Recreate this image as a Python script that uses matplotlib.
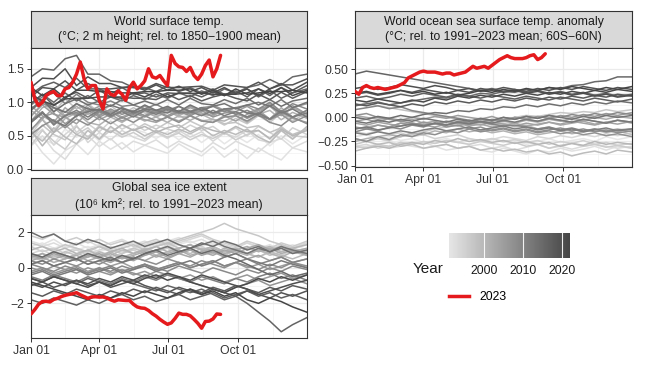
import matplotlib

matplotlib.use("Agg")
import matplotlib.pyplot as plt
import numpy as np
from matplotlib.colors import LinearSegmentedColormap, Normalize
from matplotlib.cm import ScalarMappable
from matplotlib.lines import Line2D

plt.rcParams.update({
    "font.family": ["Liberation Sans", "DejaVu Sans"],
    "font.size": 8.8,
    "axes.unicode_minus": True,
})

# ---------------------------------------------------------------- data
years = list(range(1991, 2023))
# day of year for the grey (past years) series, ~half-monthly
gray_days = [0, 15, 30, 45, 60, 75, 90, 105, 120, 135, 150, 165, 180,
             195, 210, 225, 240, 255, 270, 285, 300, 315, 330, 345, 364]
# day of year for 2023 (5-day steps up to early September)
red_days = list(range(0, 251, 5))

tick_days = [0, 90, 181, 273]
tick_labels = ["Jan 01", "Apr 01", "Jul 01", "Oct 01"]

# World surface temp. (degC x100), one row per year 1991..2022
sfc_gray = [
    [62, 45, 38, 60, 48, 58, 42, 62, 50, 60, 55, 46, 56, 44, 54, 40, 52, 38, 50, 40, 52, 35, 50, 38, 52],
    [48, 25, 8, 28, 38, 22, 42, 30, 40, 26, 36, 30, 24, 38, 28, 20, 34, 18, 30, 16, 32, 22, 14, 32, 26],
    [35, 50, 28, 15, 38, 50, 34, 46, 30, 42, 36, 44, 32, 42, 34, 26, 40, 30, 42, 34, 26, 40, 46, 32, 42],
    [45, 60, 36, 52, 66, 40, 55, 44, 58, 48, 42, 55, 46, 58, 48, 56, 42, 54, 48, 58, 44, 40, 58, 46, 62],
    [52, 75, 58, 80, 55, 68, 56, 72, 60, 68, 58, 66, 60, 55, 66, 58, 64, 52, 62, 50, 64, 55, 45, 62, 52],
    [36, 58, 42, 30, 52, 62, 45, 58, 48, 55, 45, 56, 48, 54, 44, 52, 46, 55, 44, 52, 58, 45, 64, 50, 48],
    [46, 66, 52, 44, 64, 48, 65, 55, 66, 58, 68, 60, 70, 62, 72, 64, 75, 66, 76, 68, 80, 70, 84, 72, 85],
    [78, 100, 85, 105, 90, 98, 85, 95, 82, 92, 84, 80, 88, 78, 80, 72, 75, 68, 70, 62, 65, 55, 62, 52, 60],
    [55, 42, 62, 48, 38, 58, 45, 64, 52, 60, 50, 58, 52, 60, 53, 62, 50, 58, 52, 60, 48, 40, 58, 45, 64],
    [58, 35, 55, 66, 52, 45, 63, 55, 67, 58, 64, 55, 62, 66, 56, 64, 58, 54, 64, 56, 58, 46, 60, 50, 58],
    [60, 74, 55, 76, 84, 70, 66, 78, 70, 80, 72, 78, 70, 80, 73, 82, 74, 72, 80, 70, 82, 88, 74, 85, 76],
    [72, 92, 98, 80, 94, 82, 90, 78, 88, 80, 87, 78, 86, 80, 88, 82, 80, 90, 82, 78, 88, 75, 92, 78, 88],
    [95, 80, 70, 92, 78, 96, 82, 88, 78, 86, 80, 88, 90, 82, 92, 84, 80, 90, 83, 78, 88, 94, 80, 92, 82],
    [88, 75, 92, 78, 68, 85, 74, 82, 72, 80, 74, 70, 78, 72, 80, 73, 70, 80, 72, 82, 88, 74, 85, 76, 70],
    [80, 96, 82, 78, 98, 86, 94, 84, 92, 86, 94, 86, 92, 84, 94, 86, 96, 88, 86, 94, 84, 98, 86, 95, 82],
    [58, 78, 84, 68, 80, 88, 78, 86, 76, 84, 78, 86, 80, 88, 82, 90, 82, 88, 92, 84, 90, 95, 82, 92, 98],
    [115, 98, 92, 86, 82, 92, 80, 90, 82, 88, 80, 86, 78, 86, 80, 88, 78, 84, 86, 76, 84, 74, 82, 70, 80],
    [52, 65, 74, 62, 75, 66, 78, 68, 78, 70, 80, 72, 78, 70, 80, 72, 70, 78, 80, 72, 82, 70, 65, 78, 68],
    [70, 84, 68, 80, 85, 74, 86, 78, 88, 82, 90, 84, 92, 86, 84, 92, 94, 86, 92, 96, 90, 100, 86, 98, 90],
    [96, 108, 114, 98, 112, 100, 96, 102, 94, 96, 90, 97, 88, 94, 86, 92, 84, 90, 82, 88, 80, 75, 88, 78, 88],
    [72, 86, 66, 80, 88, 78, 88, 80, 86, 78, 88, 82, 90, 84, 86, 80, 88, 80, 86, 78, 84, 75, 86, 78, 84],
    [70, 84, 72, 65, 80, 86, 90, 82, 92, 84, 90, 88, 84, 94, 86, 92, 84, 90, 92, 84, 82, 95, 84, 90, 78],
    [88, 102, 92, 85, 98, 90, 88, 96, 90, 86, 96, 88, 94, 86, 96, 88, 94, 98, 90, 96, 100, 94, 104, 92, 100],
    [90, 104, 86, 98, 105, 96, 102, 94, 104, 96, 102, 96, 104, 96, 106, 98, 96, 104, 98, 106, 96, 104, 94, 102, 106],
    [98, 112, 100, 114, 102, 110, 100, 108, 102, 110, 104, 112, 106, 114, 108, 117, 110, 120, 114, 122, 126, 134, 126, 138, 142],
    [138, 150, 148, 165, 170, 142, 142, 132, 130, 122, 122, 116, 124, 116, 122, 114, 120, 112, 114, 120, 108, 118, 106, 114, 120],
    [112, 124, 130, 122, 136, 120, 120, 112, 122, 112, 114, 108, 114, 113, 114, 108, 116, 110, 117, 108, 120, 110, 122, 114, 125],
    [98, 112, 95, 108, 115, 106, 118, 108, 108, 106, 106, 104, 112, 104, 110, 102, 108, 112, 106, 102, 112, 104, 115, 106, 116],
    [108, 122, 120, 132, 118, 128, 120, 120, 122, 122, 120, 128, 122, 122, 123, 124, 118, 126, 124, 122, 130, 120, 126, 126, 135],
    [122, 136, 135, 150, 125, 138, 128, 128, 122, 124, 118, 126, 118, 124, 116, 122, 114, 122, 113, 120, 110, 120, 128, 118, 130],
    [112, 102, 96, 105, 106, 106, 108, 108, 106, 114, 108, 116, 108, 114, 113, 114, 112, 112, 112, 114, 120, 113, 122, 110, 118],
    [122, 110, 120, 106, 118, 118, 116, 116, 114, 114, 116, 116, 118, 118, 120, 112, 118, 110, 120, 112, 114, 116, 116, 118, 114],
]
sfc_2023 = [1.30, 1.05, 0.95, 1.00, 1.10, 1.14, 1.16, 1.10, 1.10, 1.20,
            1.22, 1.30, 1.42, 1.60, 1.35, 1.20, 1.25, 1.25, 1.03, 0.90,
            1.20, 1.12, 1.10, 1.17, 1.12, 1.03, 1.22, 1.30, 1.20, 1.25,
            1.32, 1.50, 1.38, 1.36, 1.40, 1.32, 1.25, 1.70, 1.58, 1.53,
            1.52, 1.46, 1.52, 1.40, 1.34, 1.42, 1.55, 1.63, 1.38, 1.50, 1.70]

# World ocean SST anomaly (degC x100)
sst_gray = [
    [-22, -25, -22, -20, -24, -22, -26, -24, -22, -25, -28, -24, -22, -26, -24, -28, -25, -22, -26, -24, -22, -25, -20, -23, -20],
    [-20, -18, -22, -25, -28, -30, -32, -30, -34, -32, -30, -34, -36, -32, -35, -38, -34, -36, -32, -35, -33, -30, -34, -30, -32],
    [-32, -30, -28, -32, -30, -28, -26, -30, -28, -32, -30, -28, -32, -30, -34, -31, -28, -32, -30, -33, -30, -28, -30, -32, -30],
    [-30, -28, -32, -30, -26, -28, -25, -27, -24, -26, -22, -25, -23, -20, -22, -24, -20, -22, -19, -21, -18, -20, -17, -19, -16],
    [-15, -17, -14, -18, -16, -20, -18, -22, -20, -18, -22, -24, -22, -25, -23, -26, -24, -28, -25, -27, -24, -28, -26, -29, -27],
    [-30, -32, -28, -30, -26, -28, -25, -27, -24, -26, -28, -25, -27, -29, -26, -30, -28, -32, -29, -27, -30, -28, -31, -29, -32],
    [-28, -25, -22, -24, -20, -18, -15, -12, -10, -8, -6, -5, -3, -2, 0, 2, 1, 3, 5, 4, 6, 5, 8, 6, 8],
    [12, 15, 12, 10, 8, 6, 4, 2, 0, -2, -5, -4, -8, -6, -10, -8, -12, -10, -14, -12, -15, -13, -16, -14, -18],
    [-22, -25, -28, -26, -30, -28, -32, -30, -28, -32, -30, -34, -32, -35, -33, -36, -34, -38, -36, -40, -37, -35, -38, -34, -36],
    [-35, -32, -30, -32, -28, -26, -28, -24, -26, -22, -25, -23, -26, -24, -27, -25, -28, -26, -30, -27, -29, -25, -28, -26, -28],
    [-25, -22, -20, -18, -20, -16, -18, -14, -16, -12, -15, -13, -16, -14, -17, -15, -18, -16, -14, -17, -15, -12, -14, -12, -15],
    [-12, -10, -8, -10, -6, -8, -5, -7, -4, -6, -8, -5, -7, -4, -6, -3, -5, -2, -4, -1, -3, 0, -2, 1, -1],
    [2, 0, -2, -1, -4, -2, -6, -4, -8, -6, -9, -7, -10, -8, -6, -9, -7, -5, -8, -6, -4, -7, -5, -3, -6],
    [-6, -8, -5, -7, -9, -6, -8, -10, -7, -9, -6, -8, -5, -7, -9, -6, -8, -5, -7, -4, -6, -8, -5, -7, -4],
    [-4, -2, -5, -1, -3, 0, -2, 1, -1, 2, 0, -2, 1, -3, 0, -2, -4, -1, -3, -5, -2, -4, -6, -3, -5],
    [-10, -12, -8, -10, -6, -8, -5, -7, -4, -6, -3, -5, -2, -4, 0, -2, 1, -1, 2, 0, 3, 1, 4, 2, 5],
    [2, 4, 0, -2, -4, -6, -8, -6, -10, -8, -12, -10, -14, -12, -15, -13, -16, -14, -17, -15, -18, -16, -19, -17, -20],
    [-22, -25, -20, -23, -18, -20, -16, -18, -14, -16, -12, -15, -13, -11, -14, -12, -15, -13, -11, -14, -12, -15, -13, -16, -14],
    [-15, -12, -14, -10, -12, -8, -10, -6, -8, -4, -6, -2, -4, 0, -2, 1, -1, 2, 0, 3, 1, 4, 2, 5, 3],
    [8, 10, 12, 9, 11, 7, 5, 3, 1, -1, -3, -5, -7, -9, -8, -10, -12, -10, -13, -11, -14, -12, -15, -13, -12],
    [-16, -18, -15, -17, -14, -16, -13, -11, -14, -12, -10, -13, -11, -9, -12, -10, -13, -11, -14, -12, -15, -13, -11, -14, -12],
    [-12, -10, -13, -11, -9, -7, -9, -6, -8, -5, -7, -4, -6, -3, -5, -2, -4, -1, -3, -5, -2, -4, -6, -3, -5],
    [-4, -6, -3, -5, -2, -4, -1, -3, -5, -2, -4, -1, -3, 0, -2, 1, -1, 2, 0, -2, 1, -1, 2, 0, 2],
    [0, -2, 1, -1, 2, 0, 3, 5, 4, 7, 6, 9, 8, 11, 10, 13, 11, 14, 12, 15, 13, 16, 14, 17, 15],
    [12, 14, 16, 13, 15, 17, 19, 21, 20, 23, 22, 25, 24, 27, 26, 29, 28, 31, 30, 33, 34, 37, 38, 42, 42],
    [45, 48, 46, 44, 42, 40, 38, 36, 34, 32, 30, 28, 30, 27, 29, 26, 28, 25, 27, 24, 26, 23, 25, 22, 24],
    [20, 22, 19, 21, 24, 22, 25, 23, 21, 24, 22, 20, 23, 21, 19, 22, 20, 18, 21, 19, 17, 20, 18, 16, 19],
    [14, 12, 15, 13, 11, 14, 12, 16, 14, 17, 15, 18, 16, 19, 17, 20, 18, 21, 19, 22, 20, 23, 21, 24, 22],
    [24, 26, 23, 25, 28, 26, 29, 27, 25, 28, 26, 30, 28, 31, 29, 27, 30, 28, 31, 29, 32, 30, 28, 31, 29],
    [30, 32, 29, 31, 34, 32, 30, 33, 31, 28, 30, 27, 29, 26, 28, 25, 27, 24, 26, 23, 25, 22, 24, 21, 23],
    [18, 16, 19, 17, 15, 18, 16, 20, 18, 22, 20, 23, 21, 24, 22, 25, 23, 26, 24, 27, 25, 28, 26, 29, 27],
    [25, 27, 24, 26, 28, 25, 27, 24, 26, 23, 25, 28, 26, 29, 27, 30, 28, 31, 29, 32, 30, 28, 31, 29, 32],
]
sst_2023 = [0.27, 0.24, 0.31, 0.33, 0.31, 0.30, 0.31, 0.30, 0.29, 0.30,
            0.31, 0.32, 0.34, 0.36, 0.41, 0.43, 0.45, 0.47, 0.48, 0.47,
            0.47, 0.47, 0.46, 0.45, 0.46, 0.46, 0.44, 0.45, 0.46, 0.47,
            0.50, 0.53, 0.51, 0.52, 0.53, 0.51, 0.54, 0.57, 0.60, 0.62,
            0.64, 0.62, 0.61, 0.61, 0.61, 0.62, 0.64, 0.65, 0.60, 0.62, 0.66]

# Global sea ice extent anomaly (10^6 km2 x10)
ice_gray = [
    [12, 14, 11, 13, 10, 12, 9, 11, 13, 10, 12, 14, 11, 13, 15, 12, 14, 11, 13, 10, 12, 9, 11, 13, 10],
    [15, 13, 16, 12, 14, 11, 13, 10, 12, 14, 11, 13, 15, 17, 14, 16, 13, 15, 12, 14, 11, 13, 10, 12, 14],
    [10, 12, 14, 11, 13, 15, 12, 14, 16, 13, 15, 12, 14, 11, 13, 10, 12, 9, 11, 8, 10, 12, 9, 11, 13],
    [8, 10, 7, 9, 11, 8, 10, 12, 9, 11, 13, 15, 12, 14, 16, 18, 15, 13, 11, 14, 12, 10, 13, 11, 14],
    [12, 9, 11, 8, 10, 7, 9, 6, 8, 10, 7, 9, 11, 8, 10, 12, 9, 7, 10, 8, 6, 9, 7, 10, 8],
    [18, 16, 19, 15, 17, 14, 16, 13, 15, 12, 14, 16, 13, 15, 17, 19, 16, 14, 12, 15, 13, 11, 14, 12, 15],
    [14, 12, 10, 13, 11, 9, 12, 10, 8, 11, 9, 12, 14, 16, 18, 20, 22, 25, 22, 20, 18, 15, 13, 11, 9],
    [5, 8, 6, 9, 7, 10, 12, 9, 11, 13, 10, 12, 14, 11, 13, 10, 12, 9, 11, 8, 10, 7, 9, 11, 8],
    [6, 4, 7, 5, 8, 6, 9, 7, 10, 8, 11, 9, 12, 10, 8, 11, 9, 7, 10, 8, 6, 9, 7, 5, 8],
    [10, 12, 9, 11, 8, 10, 7, 9, 6, 8, 10, 7, 9, 11, 13, 10, 12, 9, 11, 8, 10, 12, 9, 11, 13],
    [8, 6, 9, 7, 5, 8, 6, 9, 11, 8, 10, 12, 9, 11, 13, 10, 8, 11, 9, 7, 10, 8, 6, 9, 7],
    [4, 6, 3, 5, 7, 4, 6, 8, 5, 7, 9, 6, 8, 10, 7, 9, 11, 8, 10, 12, 9, 11, 8, 10, 7],
    [6, 8, 5, 7, 4, 6, 8, 5, 3, 6, 4, 7, 5, 8, 6, 9, 7, 10, 8, 11, 13, 10, 12, 9, 11],
    [7, 5, 8, 6, 4, 7, 5, 3, 6, 4, 7, 9, 6, 8, 10, 7, 9, 6, 8, 5, 7, 4, 6, 3, 5],
    [2, 4, 1, 3, 5, 2, 4, 1, 3, 0, 2, -1, 1, 3, 0, 2, 4, 1, 3, 0, 2, -1, 1, 3, 0],
    [-2, 0, -3, -1, 1, -2, 0, -3, -1, -4, -2, -5, -3, -6, -4, -7, -5, -8, -6, -4, -7, -5, -3, -6, -4],
    [0, -2, 1, -1, -3, 0, -2, -4, -1, -3, -5, -2, -4, -6, -8, -10, -12, -14, -11, -9, -7, -10, -8, -6, -9],
    [4, 2, 5, 3, 1, 4, 2, 5, 3, 6, 4, 2, 5, 3, 1, 4, 2, 0, 3, 1, -1, 2, 0, 3, 1],
    [2, 0, -2, 1, -1, -3, 0, -2, 1, -1, 2, 0, -2, 1, -1, -3, 0, -2, -4, -1, -3, 0, -2, 1, -1],
    [-3, -1, -4, -2, 0, -3, -1, 1, -2, 0, 2, -1, 1, 3, 0, 2, 4, 1, 3, 5, 2, 4, 6, 3, 5],
    [-5, -7, -4, -6, -8, -5, -7, -9, -6, -8, -5, -7, -4, -6, -8, -5, -7, -9, -6, -8, -5, -3, -6, -4, -7],
    [-4, -2, -5, -3, -1, -4, -2, 0, -3, -1, 1, -2, 0, 2, 4, 1, 3, 6, 8, 5, 3, 1, 4, 2, 0],
    [2, 4, 1, 3, 5, 2, 4, 6, 3, 5, 8, 10, 12, 9, 11, 13, 15, 12, 10, 8, 11, 9, 12, 10, 8],
    [20, 17, 19, 15, 13, 16, 14, 11, 13, 15, 12, 14, 16, 13, 11, 14, 12, 15, 13, 10, 12, 9, 11, 8, 10],
    [8, 6, 9, 7, 5, 8, 6, 4, 7, 5, 8, 10, 7, 9, 11, 8, 10, 7, 5, 2, -1, -4, -2, -5, -3],
    [-6, -8, -5, -7, -9, -6, -8, -10, -7, -9, -11, -13, -10, -12, -14, -12, -15, -18, -16, -20, -25, -30, -36, -32, -28],
    [-18, -20, -17, -19, -21, -18, -20, -17, -15, -18, -16, -19, -17, -15, -18, -16, -14, -17, -15, -13, -16, -14, -17, -15, -18],
    [-14, -16, -13, -15, -12, -14, -16, -13, -15, -12, -14, -11, -13, -15, -12, -14, -11, -13, -10, -12, -14, -11, -13, -10, -12],
    [-10, -8, -11, -9, -7, -10, -8, -11, -9, -7, -10, -12, -14, -11, -13, -15, -12, -14, -16, -13, -15, -17, -14, -16, -13],
    [-9, -11, -8, -10, -7, -9, -6, -8, -5, -7, -4, -6, -3, -5, -7, -4, -6, -8, -10, -12, -15, -13, -11, -9, -7],
    [-6, -8, -5, -7, -9, -11, -8, -10, -7, -9, -6, -4, -7, -5, -8, -10, -12, -14, -11, -9, -6, -8, -5, -7, -4],
    [-8, -10, -12, -14, -16, -18, -15, -17, -14, -16, -13, -15, -17, -14, -12, -15, -13, -16, -14, -18, -20, -17, -19, -22, -25],
]
ice_2023 = [-2.60, -2.35, -2.05, -1.90, -1.88, -1.92, -1.78, -1.72, -1.62, -1.55,
            -1.50, -1.46, -1.40, -1.52, -1.62, -1.72, -1.64, -1.63, -1.65, -1.64,
            -1.70, -1.80, -1.88, -1.80, -1.82, -1.84, -1.84, -2.05, -2.20, -2.26,
            -2.28, -2.40, -2.58, -2.72, -2.90, -3.05, -3.18, -3.10, -2.85, -2.55,
            -2.62, -2.62, -2.70, -2.90, -3.12, -3.40, -3.02, -3.00, -2.88, -2.60, -2.62]

# ---------------------------------------------------------------- style
W, H = 646, 372
RED = "#E41A1C"
cmap = LinearSegmentedColormap.from_list("yr", ["#e6e6e6", "#454545"])
norm = Normalize(vmin=years[0], vmax=years[-1])


def px(left, top, right, bottom):
    """pixel box -> figure fraction rect"""
    return [left / W, 1 - bottom / H, (right - left) / W, (bottom - top) / H]


def strip(fig, rect, title):
    ax = fig.add_axes(rect)
    ax.set_facecolor("#d9d9d9")
    ax.set_xticks([])
    ax.set_yticks([])
    for s in ax.spines.values():
        s.set_color("#333333")
        s.set_linewidth(0.8)
    ax.text(0.5, 0.5, title, ha="center", va="center", color="#1a1a1a",
            fontsize=8.8, linespacing=1.35, transform=ax.transAxes)


def panel(fig, rect, gray, scale, red, ylim, yticks, yfmt, show_x):
    ax = fig.add_axes(rect)
    for yr, vals in zip(years, gray):
        ax.plot(gray_days, np.array(vals) / scale, color=cmap(norm(yr)),
                lw=1.1, solid_joinstyle="round")
    ax.plot(red_days, red, color=RED, lw=2.5, zorder=5,
            solid_joinstyle="round", solid_capstyle="round")
    ax.set_xlim(0, 364)
    ax.set_ylim(*ylim)
    ax.set_xticks(tick_days)
    ax.set_xticks([45, 135.5, 227, 319], minor=True)
    ax.set_yticks(yticks)
    ax.set_yticks([(a + b) / 2 for a, b in zip(yticks[:-1], yticks[1:])], minor=True)
    ax.set_yticklabels([yfmt.format(v).replace("-", "\u2212") for v in yticks])
    if show_x:
        ax.set_xticklabels(tick_labels)
    else:
        ax.set_xticklabels([])
    ax.tick_params(which="major", length=3, width=0.7, color="#333333",
                   labelcolor="#333333", labelsize=8.8, pad=2)
    if not show_x:
        ax.tick_params(axis="x", length=0)
    ax.tick_params(which="minor", length=0)
    ax.grid(which="major", color="#ebebeb", lw=0.9)
    ax.grid(which="minor", color="#f2f2f2", lw=0.5)
    ax.set_axisbelow(True)
    for s in ax.spines.values():
        s.set_color("#333333")
        s.set_linewidth(0.8)
    return ax


fig = plt.figure(figsize=(W / 100, H / 100), dpi=100)

strip(fig, px(31, 11, 307, 48),
      "World surface temp.\n(°C; 2 m height; rel. to 1850\u22121900 mean)")
panel(fig, px(31, 48, 307, 170), sfc_gray, 100.0, sfc_2023,
      (-0.01, 1.81), [0.0, 0.5, 1.0, 1.5], "{:.1f}", False)

strip(fig, px(355, 11, 632, 48),
      "World ocean sea surface temp. anomaly\n(°C; rel. to 1991\u22122023 mean; 60S\u221260N)")
panel(fig, px(355, 48, 632, 167), sst_gray, 100.0, sst_2023,
      (-0.515, 0.72), [-0.50, -0.25, 0.0, 0.25, 0.50], "{:.2f}", True)

strip(fig, px(31, 178, 307, 215),
      "Global sea ice extent\n(10\u2076 km\u00b2; rel. to 1991\u22122023 mean)")
panel(fig, px(31, 215, 307, 338), ice_gray, 10.0, ice_2023,
      (-3.95, 2.97), [-2, 0, 2], "{:.0f}", True)

# ---------------------------------------------------------------- legend
cax = fig.add_axes(px(449, 233, 570, 258))
sm = ScalarMappable(norm=norm, cmap=cmap)
cb = fig.colorbar(sm, cax=cax, orientation="horizontal")
cb.outline.set_visible(False)
cb.set_ticks([2000, 2010, 2020])
cax.tick_params(length=0, pad=5, labelsize=8.8, labelcolor="#1a1a1a")
for t in [2000, 2010, 2020]:
    cax.axvline(t, color="white", lw=0.8, alpha=0.9)
fig.text(413 / W, 1 - 269 / H, "Year", fontsize=11, va="center", ha="left",
         color="#1a1a1a")

fig.legend(handles=[Line2D([], [], color=RED, lw=2.5)], labels=["2023"],
           loc="center left", bbox_to_anchor=(449 / W, 1 - 297 / H),
           frameon=False, borderpad=0, borderaxespad=0, handlelength=1.65,
           handletextpad=0.8, fontsize=8.8)

fig.savefig("out.png", dpi=100)
